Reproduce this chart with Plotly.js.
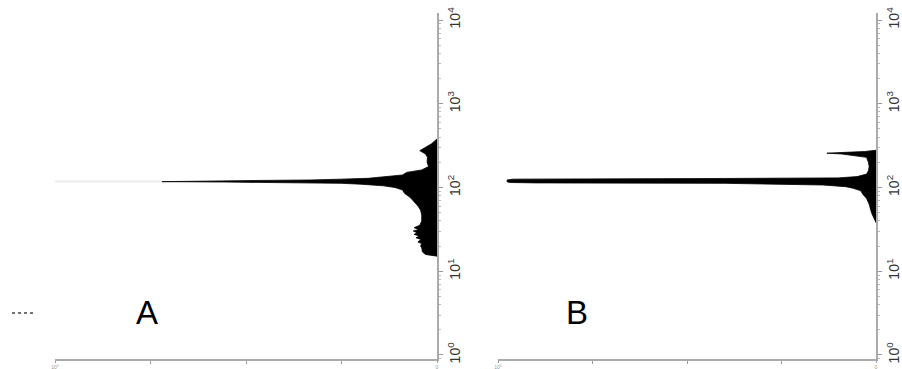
<!DOCTYPE html>
<html>
<head>
<meta charset="utf-8">
<script src="https://cdn.plot.ly/plotly-3.0.1.min.js"></script>
<style>html,body{margin:0;padding:0;background:#fff;}#chart{width:902px;height:369px;}</style>
</head>
<body>
<div id="chart"></div>
<script>
// Panel A: bin exponent (log10 of value) and bar length (count, axis 0..100, 0 at right)
const binExpA = [2.58,2.56,2.52,2.48,2.44,2.40,2.36,2.30,2.25,2.21,2.18,2.15,2.13,2.11,2.10,2.09,2.085,2.08,2.075,2.07,2.065,2.06,2.05,2.04,2.02,2.00,1.97,1.93,1.88,1.83,1.78,1.73,1.67,1.60,1.55,1.52,1.50,1.48,1.46,1.44,1.42,1.40,1.38,1.35,1.33,1.30,1.28,1.23,1.20,1.18];
const countA  = [0,0.5,1.5,3,4.5,3,2.5,2.6,2.2,4,8,9,14,18,25,33,45,60,72,72,55,40,25,20,14,11,9,8.5,7,6,5,4.3,4,4,4.5,6,4.8,6.2,5.2,6,4.6,5.5,4.2,5,4,4.3,4,3.8,3,0];
// faint tail of panel A spike
const tailExpA = [2.073,2.073];
const tailCountA = [72,100];

// Panel B
const binExpB = [2.445,2.43,2.42,2.41,2.40,2.39,2.38,2.36,2.30,2.25,2.20,2.16,2.13,2.115,2.108,2.10,2.09,2.08,2.07,2.06,2.055,2.05,2.04,2.03,2.01,1.99,1.96,1.92,1.87,1.80,1.70,1.62,1.58];
const countB  = [0,3,8,13,9,7,5,2.5,2,1.8,2,2.5,5,10,40,96,97.6,97.6,97.6,97,90,40,20,14,8,6,4,3.5,2.5,1.8,1.2,0.5,0];

const yTickVals = [1,10,100,1000,10000];
const yTickText = ['10<sup>0</sup>','10<sup>1</sup>','10<sup>2</sup>','10<sup>3</sup>','10<sup>4</sup>'];
const xTickVals = [0,100];
const xTickText = ['0','10<sup>5</sup>'];
const xMinorVals = [25,50,75];
const panelLabels = ['A','B'];

const toVal = a => a.map(e => Math.pow(10, e));

const traces = [
  {x: tailCountA, y: toVal(tailExpA), xaxis:'x', yaxis:'y', mode:'lines',
   line:{color:'#ececec', width:2}, hoverinfo:'skip'},
  {x: countA, y: toVal(binExpA), xaxis:'x', yaxis:'y', mode:'lines',
   fill:'tozerox', fillcolor:'#000', line:{color:'#000', width:0.8}},
  {x: countB, y: toVal(binExpB), xaxis:'x2', yaxis:'y2', mode:'lines',
   fill:'tozerox', fillcolor:'#000', line:{color:'#000', width:0.8}}
];

const xBase = {range:[100,0], showgrid:false, zeroline:false, showline:true, linecolor:'#aaa', linewidth:2,
  ticks:'outside', ticklen:2, tickcolor:'#999', tickvals:xTickVals, ticktext:xTickText,
  ticklabelstandoff:0,
  tickfont:{family:'Arial', size:5, color:'#999'},
  minor:{tickmode:'array', tickvals:xMinorVals, ticks:'outside', ticklen:3, tickcolor:'#999', showgrid:false}};
const yBase = {type:'log', range:[-0.048,4.084], side:'right', showgrid:false, zeroline:false,
  showline:true, linecolor:'#aaa', linewidth:2, ticks:'outside', ticklen:4, tickcolor:'#999',
  tickvals:yTickVals, ticktext:yTickText, tickangle:-90,
  tickfont:{family:'Arial', size:14, color:'#333'},
  minor:{ticks:'outside', ticklen:2, tickwidth:1, tickcolor:'#bbb', dtick:'D1', showgrid:false}};

const layout = {
  width:902, height:369, margin:{l:0,r:0,t:13,b:10},
  paper_bgcolor:'#fff', plot_bgcolor:'#fff', showlegend:false,
  xaxis: Object.assign({}, xBase, {domain:[55/902, 437/902], anchor:'y'}),
  yaxis: Object.assign({}, yBase, {anchor:'x'}),
  xaxis2: Object.assign({}, xBase, {domain:[498/902, 876/902], anchor:'y2'}),
  yaxis2: Object.assign({}, yBase, {anchor:'x2'}),
  annotations: [
    {text:panelLabels[0], xref:'paper', yref:'paper', x:147/902, y:1-(312-13)/346, yanchor:'middle', xanchor:'center',
     showarrow:false, font:{family:'Arial', size:33, color:'#000'}},
    {text:panelLabels[1], xref:'paper', yref:'paper', x:577/902, y:1-(312-13)/346, yanchor:'middle', xanchor:'center',
     showarrow:false, font:{family:'Arial', size:33, color:'#000'}}
  ],
  shapes: [
    {type:'line', xref:'paper', yref:'paper', x0:12/902, x1:33/902, y0:1-(313-13)/346, y1:1-(313-13)/346,
     line:{color:'#444', width:1.5, dash:'dot'}}
  ]
};

Plotly.newPlot('chart', traces, layout, {displayModeBar:false, staticPlot:true});
</script>
</body>
</html>
